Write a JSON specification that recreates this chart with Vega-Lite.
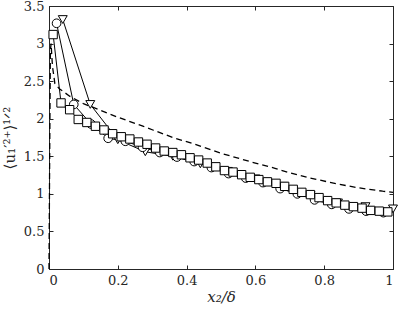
{
  "$schema": "https://vega.github.io/schema/vega-lite/v6.json",
  "width": 344,
  "height": 263,
  "autosize": "none",
  "padding": {"left": 49, "top": 6, "right": 6, "bottom": 43},
  "background": "white",
  "config": {
    "view": {"stroke": "#262626", "strokeWidth": 1},
    "axis": {
      "labelFont": "DejaVu Serif, Liberation Serif, serif",
      "labelFontSize": 13,
      "labelColor": "#262626",
      "titleFont": "DejaVu Serif, Liberation Serif, serif",
      "titleFontSize": 15,
      "titleFontWeight": "normal",
      "titleColor": "#262626",
      "tickColor": "#262626",
      "domainColor": "#262626",
      "grid": false,
      "tickSize": -4,
      "labelPadding": 9
    }
  },
  "datasets": {
    "dashed": [
      {"x": 0, "y": 0}, {"x": 0.002, "y": 1.5}, {"x": 0.004, "y": 2.9}, {"x": 0.006, "y": 3.0},
      {"x": 0.01, "y": 2.7}, {"x": 0.017, "y": 2.47}, {"x": 0.03, "y": 2.4}, {"x": 0.06, "y": 2.3},
      {"x": 0.1, "y": 2.2}, {"x": 0.134, "y": 2.14}, {"x": 0.2, "y": 2.02}, {"x": 0.273, "y": 1.9},
      {"x": 0.302, "y": 1.85}, {"x": 0.36, "y": 1.75}, {"x": 0.424, "y": 1.66}, {"x": 0.5, "y": 1.54},
      {"x": 0.6, "y": 1.41}, {"x": 0.657, "y": 1.34}, {"x": 0.7, "y": 1.28}, {"x": 0.76, "y": 1.21},
      {"x": 0.84, "y": 1.13}, {"x": 0.9, "y": 1.08}, {"x": 0.97, "y": 1.035}, {"x": 1.0, "y": 1.02}
    ],
    "series": [
      {"s": "tri", "x": 0.04, "y": 3.32}, {"s": "tri", "x": 0.12, "y": 2.19}, {"s": "tri", "x": 0.2, "y": 1.72},
      {"s": "tri", "x": 0.28, "y": 1.56}, {"s": "tri", "x": 0.36, "y": 1.5}, {"s": "tri", "x": 0.44, "y": 1.4},
      {"s": "tri", "x": 0.52, "y": 1.3}, {"s": "tri", "x": 0.6, "y": 1.2}, {"s": "tri", "x": 0.68, "y": 1.1},
      {"s": "tri", "x": 0.76, "y": 0.98}, {"s": "tri", "x": 0.84, "y": 0.88}, {"s": "tri", "x": 0.92, "y": 0.83},
      {"s": "tri", "x": 1.0, "y": 0.8},
      {"s": "circ", "x": 0.022, "y": 3.27}, {"s": "circ", "x": 0.072, "y": 2.19}, {"s": "circ", "x": 0.122, "y": 1.93},
      {"s": "circ", "x": 0.172, "y": 1.74}, {"s": "circ", "x": 0.222, "y": 1.7}, {"s": "circ", "x": 0.272, "y": 1.62},
      {"s": "circ", "x": 0.322, "y": 1.55}, {"s": "circ", "x": 0.372, "y": 1.49}, {"s": "circ", "x": 0.422, "y": 1.43},
      {"s": "circ", "x": 0.472, "y": 1.35}, {"s": "circ", "x": 0.522, "y": 1.27}, {"s": "circ", "x": 0.572, "y": 1.21},
      {"s": "circ", "x": 0.622, "y": 1.15}, {"s": "circ", "x": 0.672, "y": 1.07}, {"s": "circ", "x": 0.722, "y": 1.0},
      {"s": "circ", "x": 0.772, "y": 0.92}, {"s": "circ", "x": 0.822, "y": 0.86}, {"s": "circ", "x": 0.872, "y": 0.8},
      {"s": "circ", "x": 0.922, "y": 0.77}, {"s": "circ", "x": 0.972, "y": 0.75},
      {"s": "sq", "x": 0.012, "y": 3.12}, {"s": "sq", "x": 0.035, "y": 2.21}, {"s": "sq", "x": 0.06, "y": 2.12},
      {"s": "sq", "x": 0.085, "y": 1.99}, {"s": "sq", "x": 0.11, "y": 1.95}, {"s": "sq", "x": 0.135, "y": 1.9},
      {"s": "sq", "x": 0.16, "y": 1.85}, {"s": "sq", "x": 0.185, "y": 1.8}, {"s": "sq", "x": 0.21, "y": 1.76},
      {"s": "sq", "x": 0.235, "y": 1.73}, {"s": "sq", "x": 0.26, "y": 1.69}, {"s": "sq", "x": 0.285, "y": 1.66},
      {"s": "sq", "x": 0.31, "y": 1.61}, {"s": "sq", "x": 0.335, "y": 1.57}, {"s": "sq", "x": 0.36, "y": 1.55},
      {"s": "sq", "x": 0.385, "y": 1.52}, {"s": "sq", "x": 0.41, "y": 1.48}, {"s": "sq", "x": 0.435, "y": 1.45},
      {"s": "sq", "x": 0.46, "y": 1.41}, {"s": "sq", "x": 0.485, "y": 1.36}, {"s": "sq", "x": 0.51, "y": 1.31},
      {"s": "sq", "x": 0.535, "y": 1.29}, {"s": "sq", "x": 0.56, "y": 1.255}, {"s": "sq", "x": 0.585, "y": 1.22},
      {"s": "sq", "x": 0.61, "y": 1.19}, {"s": "sq", "x": 0.635, "y": 1.16}, {"s": "sq", "x": 0.66, "y": 1.14},
      {"s": "sq", "x": 0.685, "y": 1.1}, {"s": "sq", "x": 0.71, "y": 1.06}, {"s": "sq", "x": 0.735, "y": 1.02},
      {"s": "sq", "x": 0.76, "y": 0.99}, {"s": "sq", "x": 0.785, "y": 0.95}, {"s": "sq", "x": 0.81, "y": 0.91},
      {"s": "sq", "x": 0.835, "y": 0.88}, {"s": "sq", "x": 0.86, "y": 0.85}, {"s": "sq", "x": 0.885, "y": 0.83},
      {"s": "sq", "x": 0.91, "y": 0.81}, {"s": "sq", "x": 0.935, "y": 0.78}, {"s": "sq", "x": 0.96, "y": 0.77},
      {"s": "sq", "x": 0.985, "y": 0.76}
    ]
  },
  "layer": [
    {
      "data": {"name": "dashed"},
      "mark": {"type": "line", "color": "black", "strokeWidth": 1.3, "strokeDash": [6, 4]},
      "encoding": {
        "x": {"field": "x", "type": "quantitative", "scale": {"domain": [0, 1], "nice": false, "zero": false},
              "axis": {"orient": "top", "labels": false, "title": null, "domain": false, "values": [0, 0.2, 0.4, 0.6, 0.8, 1]}},
        "y": {"field": "y", "type": "quantitative", "scale": {"domain": [0, 3.5], "nice": false},
              "axis": {"orient": "right", "labels": false, "title": null, "domain": false, "values": [0, 0.5, 1, 1.5, 2, 2.5, 3, 3.5]}}
      }
    },
    {
      "data": {"name": "series"},
      "mark": {"type": "line", "color": "black", "strokeWidth": 1},
      "encoding": {
        "x": {"field": "x", "type": "quantitative",
              "axis": {"orient": "bottom", "title": "x₂/δ", "titleFontStyle": "italic", "titlePadding": 2,
                       "values": [0, 0.2, 0.4, 0.6, 0.8, 1], "labelExpr": "'' + datum.value"}},
        "y": {"field": "y", "type": "quantitative",
              "axis": {"orient": "left", "title": "⟨u₁′²⁺⟩¹ᐟ²", "titlePadding": 6,
                       "values": [0, 0.5, 1, 1.5, 2, 2.5, 3, 3.5], "labelExpr": "'' + datum.value"}},
        "detail": {"field": "s", "type": "nominal"}
      }
    },
    {
      "data": {"name": "series"},
      "mark": {"type": "point", "filled": true, "fill": "white", "stroke": "black", "strokeWidth": 1, "opacity": 1},
      "encoding": {
        "x": {"field": "x", "type": "quantitative", "axis": null},
        "y": {"field": "y", "type": "quantitative", "axis": null},
        "shape": {"field": "s", "type": "nominal", "scale": {"domain": ["tri", "circ", "sq"], "range": ["triangle-down", "circle", "square"]}, "legend": null},
        "size": {"field": "s", "type": "nominal", "scale": {"domain": ["tri", "circ", "sq"], "range": [80, 70, 64]}, "legend": null}
      }
    }
  ],
  "resolve": {"axis": {"x": "independent", "y": "independent"}}
}
